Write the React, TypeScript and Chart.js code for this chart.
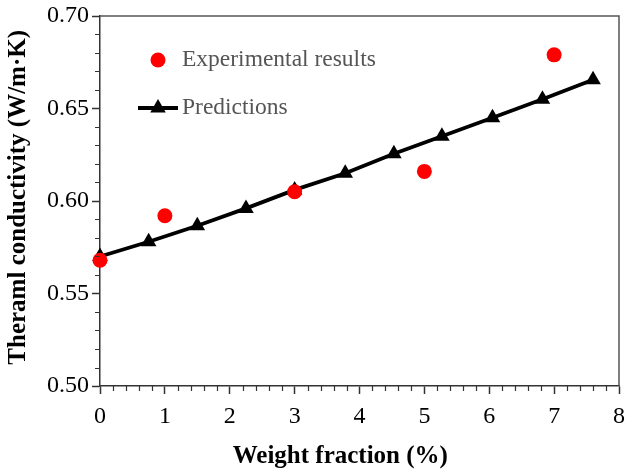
import React, { useEffect, useRef } from 'react';
import { Chart, registerables } from 'chart.js';

Chart.register(...registerables);

const FONT = '"Liberation Serif", "Times New Roman", serif';

// Experimental results
const expX = [0, 1, 3, 5, 7];
const expY = [0.568, 0.592, 0.605, 0.616, 0.679];

// Predictions
const predX = [0, 0.75, 1.5, 2.25, 3.0, 3.78, 4.53, 5.27, 6.05, 6.82, 7.6];
const predY = [0.570, 0.578, 0.5866, 0.596, 0.606, 0.615, 0.6255, 0.635, 0.645, 0.655, 0.6655];

// Axis settings
const xMin = 0;
const xMax = 8;
const yMin = 0.5;
const yMax = 0.7;
const xMinorStep = 0.2;
const yMinorStep = 0.01;

const xTitle = 'Weight fraction (%)';
const yTitle = 'Theraml conductivity (W/m·K)';
const legendLabels = ['Experimental results', 'Predictions'];

const decor = {
  id: 'decor',
  afterDraw(chart: any) {
    const { ctx, chartArea } = chart;
    const { left, right, top, bottom } = chartArea;
    const xs = chart.scales.x;
    const ys = chart.scales.y;
    ctx.save();
    // frame top/right
    ctx.strokeStyle = '#555';
    ctx.lineWidth = 1.5;
    ctx.beginPath();
    ctx.moveTo(left, top);
    ctx.lineTo(right, top);
    ctx.lineTo(right, bottom);
    ctx.stroke();
    // minor ticks
    ctx.strokeStyle = '#333';
    ctx.lineWidth = 1.2;
    ctx.beginPath();
    for (let v = xMin; v <= xMax + 1e-9; v += xMinorStep) {
      if (Math.abs(v - Math.round(v)) < 1e-6) continue;
      const px = Math.round(xs.getPixelForValue(v)) + 0.5;
      ctx.moveTo(px, bottom);
      ctx.lineTo(px, bottom + 5);
    }
    for (let v = yMin; v <= yMax + 1e-9; v += yMinorStep) {
      const r = v / 0.05;
      if (Math.abs(r - Math.round(r)) < 1e-6) continue;
      const py = Math.round(ys.getPixelForValue(v)) + 0.5;
      ctx.moveTo(left, py);
      ctx.lineTo(left - 5, py);
    }
    ctx.stroke();

    // axis titles
    ctx.fillStyle = '#000';
    ctx.font = `bold 25px ${FONT}`;
    ctx.textAlign = 'center';
    ctx.textBaseline = 'middle';
    ctx.fillText(xTitle, left + (right - left) * 0.463, 457);
    ctx.save();
    ctx.translate(19, top + (bottom - top) * 0.49);
    ctx.rotate(-Math.PI / 2);
    ctx.fillText(yTitle, 0, 0);
    ctx.restore();

    // legend
    const lx = left + 58;
    const ly1 = top + 44;
    const ly2 = top + 92;
    ctx.fillStyle = '#ff0000';
    ctx.beginPath();
    ctx.arc(lx, ly1, 7.5, 0, Math.PI * 2);
    ctx.fill();
    ctx.strokeStyle = '#000';
    ctx.lineWidth = 3.8;
    ctx.beginPath();
    ctx.moveTo(lx - 20, ly2);
    ctx.lineTo(lx + 20, ly2);
    ctx.stroke();
    const r = 9;
    ctx.fillStyle = '#000';
    ctx.beginPath();
    ctx.moveTo(lx, ly2 - r);
    ctx.lineTo(lx + r * Math.sin((2 * Math.PI) / 3), ly2 - r * Math.cos((2 * Math.PI) / 3));
    ctx.lineTo(lx + r * Math.sin((4 * Math.PI) / 3), ly2 - r * Math.cos((4 * Math.PI) / 3));
    ctx.closePath();
    ctx.fill();
    ctx.fillStyle = '#555';
    ctx.font = `23.5px ${FONT}`;
    ctx.textAlign = 'left';
    ctx.fillText(legendLabels[0], lx + 24, ly1);
    ctx.fillText(legendLabels[1], lx + 24, ly2);
    ctx.restore();
  },
};

export default function App() {
  const ref = useRef<HTMLCanvasElement>(null);
  useEffect(() => {
    const chart = new Chart(ref.current as HTMLCanvasElement, {
      type: 'scatter',
      data: {
        datasets: [
          {
            label: legendLabels[0],
            data: expX.map((x, i) => ({ x, y: expY[i] })),
            pointStyle: 'circle',
            pointRadius: 7.5,
            backgroundColor: '#ff0000',
            borderColor: '#ff0000',
            borderWidth: 0,
            showLine: false,
            clip: false,
          } as any,
          {
            label: legendLabels[1],
            data: predX.map((x, i) => ({ x, y: predY[i] })),
            showLine: true,
            borderColor: '#000',
            borderWidth: 3.8,
            backgroundColor: '#000',
            pointStyle: 'triangle',
            pointRadius: 9,
            pointBackgroundColor: '#000',
            pointBorderColor: '#000',
            pointBorderWidth: 0,
            clip: false,
          } as any,
        ],
      },
      options: {
        responsive: false,
        animation: false,
        devicePixelRatio: 1,
        layout: { padding: { top: 16, right: 7, left: 0, bottom: 0 } },
        plugins: { legend: { display: false }, tooltip: { enabled: false } },
        scales: {
          x: {
            type: 'linear',
            min: xMin,
            max: xMax,
            position: 'bottom',
            ticks: {
              stepSize: 1,
              font: { family: FONT, size: 24 },
              color: '#000',
              padding: 8,
              maxRotation: 0,
            },
            grid: {
              drawOnChartArea: false,
              drawTicks: true,
              tickLength: 8,
              tickColor: '#333',
              tickWidth: 1.5,
            },
            border: { color: '#333', width: 1.5 },
            afterFit: (s: any) => {
              s.height = 84;
              s.paddingLeft = 0;
              s.paddingRight = 0;
            },
          },
          y: {
            type: 'linear',
            min: yMin,
            max: yMax,
            ticks: {
              stepSize: 0.05,
              callback: (v: any) => Number(v).toFixed(2),
              font: { family: FONT, size: 24 },
              color: '#000',
              padding: 3,
            },
            grid: {
              drawOnChartArea: false,
              drawTicks: true,
              tickLength: 8,
              tickColor: '#333',
              tickWidth: 1.5,
            },
            border: { color: '#333', width: 1.5 },
            afterFit: (s: any) => {
              s.width = 100;
              s.paddingTop = 0;
              s.paddingBottom = 0;
            },
          },
        },
      },
      plugins: [decor],
    });
    return () => chart.destroy();
  }, []);
  return (
    <div style={{ position: 'absolute', left: 0, top: 0, width: 628, height: 470, background: '#fff' }}>
      <canvas ref={ref} width={628} height={470} />
    </div>
  );
}
